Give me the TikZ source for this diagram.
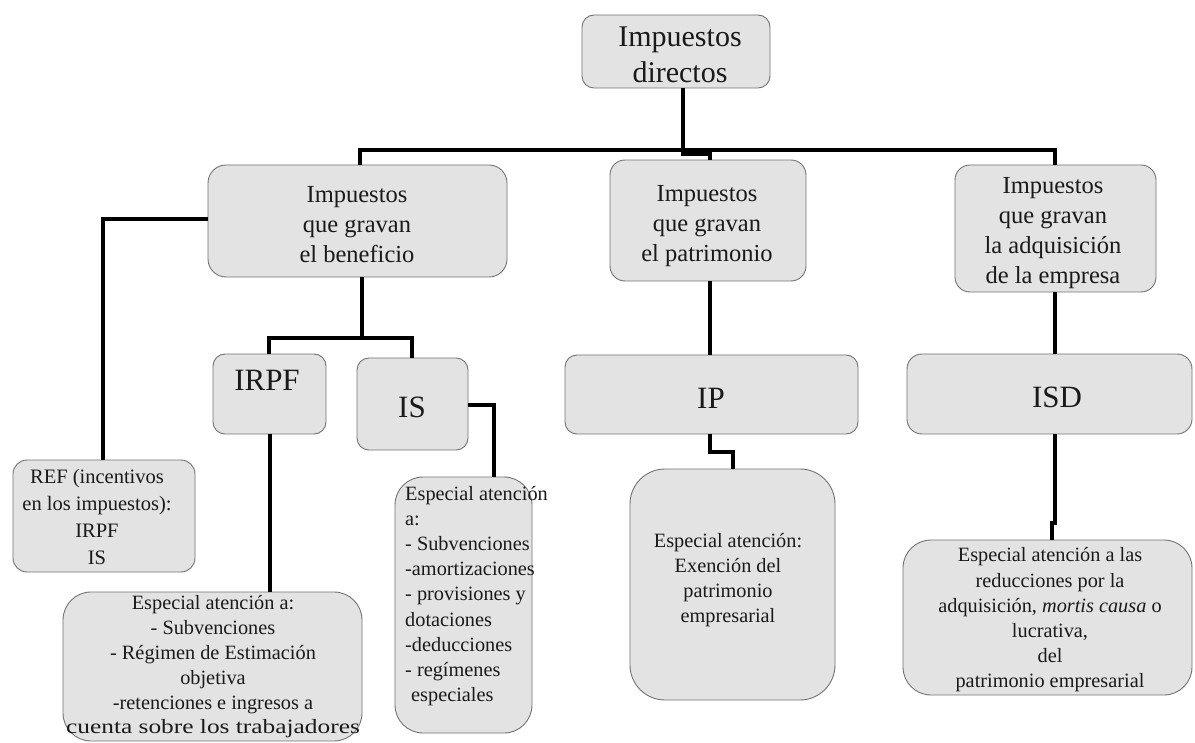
\documentclass[tikz,border=0pt]{standalone}
\usepackage{fontspec}
\usepackage{graphicx}
\setmainfont{Liberation Serif}
\definecolor{boxgray}{HTML}{E3E3E3}
\definecolor{ink}{HTML}{1A1A1A}
\begin{document}
\begin{tikzpicture}[x=1pt,y=-1pt,
  box/.style={draw=black!55, line width=0.9pt, fill=boxgray, inner sep=0pt, rectangle},
  wire/.style={line width=4.5pt, draw=black, line join=miter},
  txt/.style={text=ink, inner sep=0pt, align=center},
  bigtxt/.style={txt, font=\fontsize{30}{36}\selectfont},
  midtxt/.style={txt, font=\fontsize{24.5}{30}\selectfont},
  codetxt/.style={txt, font=\fontsize{31}{36}\selectfont},
  smalltxt/.style={txt, font=\fontsize{20.3}{25.2}\selectfont}]
\useasboundingbox[fill=white] (0,0) rectangle (1195,743);

% ---- boxes ----
\node[box, minimum width=188pt, minimum height=73pt, rounded corners=12pt] (dir) at (676,51.5) {};
\node[box, minimum width=299pt, minimum height=112pt, rounded corners=18pt] (ben) at (357.5,221) {};
\node[box, minimum width=196pt, minimum height=121pt, rounded corners=15pt] (pat) at (708,220.5) {};
\node[box, minimum width=201pt, minimum height=127pt, rounded corners=15pt] (adq) at (1055.5,228.5) {};
\node[box, minimum width=182pt, minimum height=112pt, rounded corners=14pt] (ref) at (104,516) {};
\node[box, minimum width=113pt, minimum height=80pt, rounded corners=12pt] (irpf) at (269.5,394) {};
\node[box, minimum width=111pt, minimum height=92pt, rounded corners=12pt] (is) at (412.5,404) {};
\node[box, minimum width=293pt, minimum height=79pt, rounded corners=12pt] (ip) at (711.5,394.5) {};
\node[box, minimum width=285pt, minimum height=80pt, rounded corners=15pt] (isd) at (1049.5,394) {};
\node[box, minimum width=299pt, minimum height=149pt, rounded corners=28pt] (irpfd) at (212.5,666.5) {};
\node[box, minimum width=137pt, minimum height=256pt, rounded corners=28pt] (isdet) at (463.5,605) {};
\node[box, minimum width=205pt, minimum height=231pt, rounded corners=35pt] (exd) at (732.5,584.5) {};
\node[box, minimum width=289pt, minimum height=155pt, rounded corners=28pt] (isdd) at (1047.5,617.5) {};

% ---- texts ----
\node[bigtxt] (dir-t) at (680,55) {Impuestos\\directos};
\node[midtxt] (ben-t) at (357,225) {Impuestos\\que gravan\\el beneficio};
\node[midtxt] (pat-t) at (707,226) {Impuestos\\que gravan\\el patrimonio};
\node[midtxt] (adq-t) at (1053,233) {Impuestos\\que gravan\\la adquisición\\de la empresa};
\node[codetxt] (irpf-t) at (267,380) {IRPF};
\node[codetxt] (is-t) at (412,407) {IS};
\node[codetxt] (ip-t) at (711,398) {IP};
\node[codetxt] (isd-t) at (1057,397) {ISD};
\node[smalltxt, font=\fontsize{20.5}{27}\selectfont] (ref-t) at (97,517) {REF (incentivos\\en los impuestos):\\IRPF\\IS};
\node[smalltxt, font=\fontsize{20.3}{24.8}\selectfont] (irpfd-t) at (213,667) {Especial atención a:\\- Subvenciones\\- Régimen de Estimación\\objetiva\\-retenciones e ingresos a\\\scalebox{1.25}[1]{cuenta sobre los trabajadores}};
\node[smalltxt, align=left, anchor=west] (isdet-t) at (405,596) {Especial atención\\a:\\- Subvenciones\\-amortizaciones\\- provisiones y\\dotaciones\\-deducciones\\- regímenes\\\hspace*{6pt}especiales};
\node[smalltxt] (exd-t) at (728,580) {Especial atención:\\Exención del\\patrimonio\\empresarial};
\node[smalltxt] (isdd-t) at (1050,620) {Especial atención a las\\reducciones por la\\adquisición, \textit{mortis causa} o\\lucrativa,\\del\\patrimonio empresarial};

% ---- bend points of the connectors ----
\coordinate (busL) at (360,150);
\coordinate (busR) at (1055,150);
\coordinate (jA) at (683,154);
\coordinate (jB) at (710,154);
\coordinate (refL) at (103,219);
\coordinate (bt) at (362,338);
\coordinate (btL) at (269,338);
\coordinate (btR) at (412,338);
\coordinate (isr) at (494,405);
\coordinate (irx) at (270,500);
\coordinate (px) at (710,300);
\coordinate (j1) at (710,452);
\coordinate (j2) at (733,452);
\coordinate (ax) at (1055,300);
\coordinate (k1) at (1055,523);
\coordinate (k2) at (1052,523);

% ---- connectors ----
\draw[wire] (ben.north -| busL) -- (busL) -- (busR) -- (adq.north -| busR);
\draw[wire] (dir.south -| jA) -- (jA) -- (jB) -- (pat.north -| jB);
\draw[wire] (ben.west |- refL) -- (refL) -- (ref.north -| refL);
\draw[wire] (ben.south -| bt) -- (bt);
\draw[wire] (irpf.north -| btL) -- (btL) -- (btR) -- (is.north -| btR);
\draw[wire] (is.east |- isr) -- (isr) -- (isdet.north -| isr);
\draw[wire] (irpf.south -| irx) -- (irpfd.north -| irx);
\draw[wire] (pat.south -| px) -- (ip.north -| px);
\draw[wire] (ip.south -| j1) -- (j1) -- (j2) -- (exd.north -| j2);
\draw[wire] (adq.south -| ax) -- (isd.north -| ax);
\draw[wire] (isd.south -| k1) -- (k1) -- (k2) -- (isdd.north -| k2);
\end{tikzpicture}
\end{document}
